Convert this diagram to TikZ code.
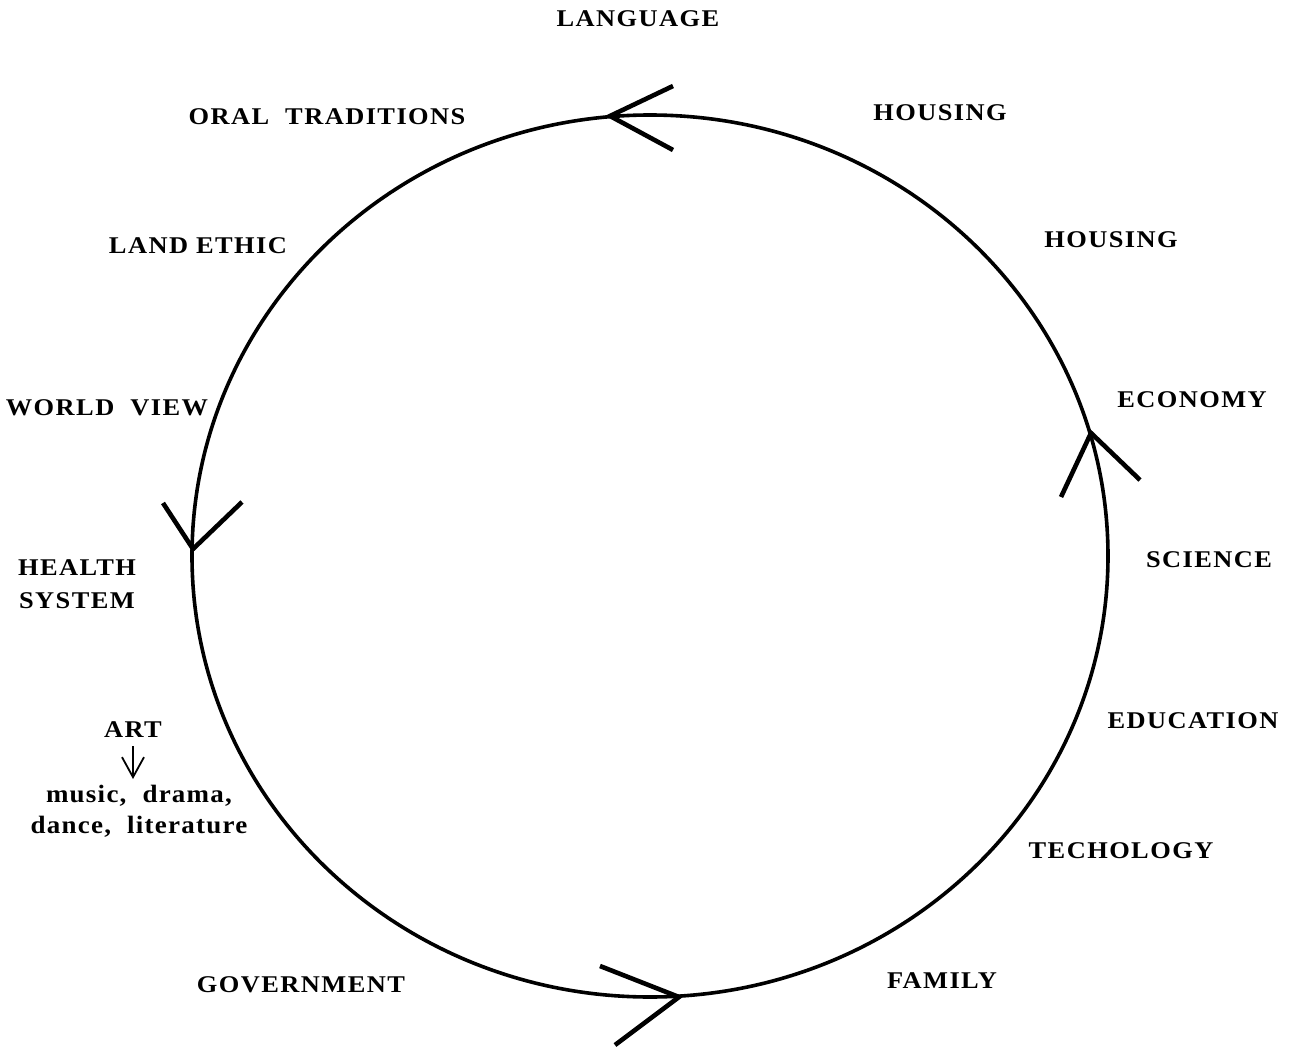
\documentclass[tikz,border=0pt]{standalone}
\usepackage{fontspec}
\setmainfont{Liberation Serif}
\newfontfamily\spacedfont[FakeStretch=1.1,LetterSpace=6]{Liberation Serif}
\newfontfamily\spacedsmall[FakeStretch=1.08,LetterSpace=5]{Liberation Serif}
\usetikzlibrary{arrows.meta}
\begin{document}
\begin{tikzpicture}[x=1pt,y=-1pt,
  lbl/.style={font=\spacedfont\fontsize{24}{33}\selectfont\bfseries, inner sep=0pt, align=center},
  small/.style={font=\spacedsmall\fontsize{25}{31}\selectfont\bfseries, inner sep=0pt, align=center},
  ring/.style={line width=3.6pt},
  chev/.style={line width=4.6pt, line cap=butt, line join=miter}]
\useasboundingbox (0,0) rectangle (1294,1049);
\draw[ring] (650,556) ellipse [x radius=458, y radius=441];
% chevrons
\coordinate (tA) at (610,116); \coordinate (t1) at (673,86); \coordinate (t2) at (673,150);
\coordinate (bA) at (679,997); \coordinate (b1) at (600,966); \coordinate (b2) at (615,1045);
\coordinate (lA) at (193,549); \coordinate (l1) at (163,503); \coordinate (l2) at (242,502);
\coordinate (rA) at (1091,433); \coordinate (r1) at (1061,497); \coordinate (r2) at (1140,480);
\draw[chev] (t1) -- (tA) -- (t2);
\draw[chev] (b1) -- (bA) -- (b2);
\draw[chev] (l1) -- (lA) -- (l2);
\draw[chev] (r1) -- (rA) -- (r2);
% labels
\node[lbl] (lang) at (638,19) {LANGUAGE};
\node[lbl] (oral) at (327,117) {ORAL\ \ TRADITIONS};
\node[lbl] (hous1) at (940,113) {HOUSING};
\node[lbl] (hous2) at (1111,240) {HOUSING};
\node[lbl] (land) at (198,246) {LAND\ ETHIC};
\node[lbl] (world) at (107,408) {WORLD\ \ VIEW};
\node[lbl] (econ) at (1192,400) {ECONOMY};
\node[lbl] (health) at (77,584) {HEALTH\\SYSTEM};
\node[lbl] (sci) at (1209,560) {SCIENCE};
\node[lbl] (edu) at (1193,721) {EDUCATION};
\node[lbl] (tech) at (1121,851) {TECHOLOGY};
\node[lbl] (gov) at (301,985) {GOVERNMENT};
\node[lbl] (fam) at (942,981) {FAMILY};
\node[lbl] (art) at (133,730) {ART};
\node[small] (artsub) at (139,811) {music,\ \ drama,\\dance,\ \ literature};
\coordinate (artstart) at (133,746);
\coordinate (artend) at (133,779);
\draw[line width=1.8pt, -{Straight Barb[length=20pt,width=22pt,line width=1.8pt]}] (artstart) -- (artend);
\end{tikzpicture}
\end{document}
